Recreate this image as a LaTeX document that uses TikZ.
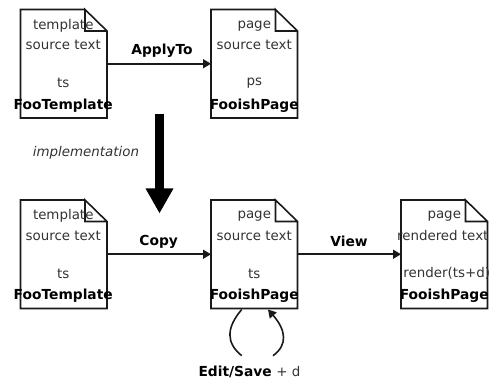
\documentclass[tikz,border=0pt]{standalone}
\usepackage{fontspec}
\setmainfont{DejaVu Sans}
\usetikzlibrary{arrows.meta}
\definecolor{ink}{HTML}{1A1A1A}
\definecolor{txt}{HTML}{333333}
\tikzset{
  x=1pt,y=-1pt,
  docbox/.style={minimum width=86.5pt,minimum height=108.5pt,inner sep=0pt,outer sep=0pt,anchor=north west},
  docline/.style={draw=ink,line width=1.6pt,line join=miter},
  lab/.style={font=\fontsize{13.4}{15}\selectfont,text=txt,inner sep=0pt,anchor=center},
  blab/.style={font=\fontsize{13.8}{15}\selectfont\bfseries,text=black,inner sep=0pt,anchor=center},
  ilab/.style={font=\fontsize{13.4}{15}\selectfont\itshape,text=txt,inner sep=0pt,anchor=center},
  conn/.style={draw=ink,line width=1.6pt,-{Triangle[length=8pt,width=9pt]}},
  plain/.style={draw=ink,line width=1.6pt},
}
\newcommand{\docshape}[3]{%
  \node[docbox] (#1) at (#2,#3) {};
  \draw[docline] ([xshift=-22pt]#1.north east) -- (#1.north west) -- (#1.south west) -- (#1.south east)
    -- ([yshift=-21.5pt]#1.north east) -- ([xshift=-22pt]#1.north east)
    -- ([xshift=-22pt,yshift=-21.5pt]#1.north east) -- ([yshift=-21.5pt]#1.north east);
}
\newcommand{\doctext}[5]{%
  \node[lab] at ([xshift=-#2pt,yshift=-16.3pt]#1.north) {#3};
  \node[lab] at ([yshift=-35.5pt,xshift=-#2pt]#1.north) {source text};
  \node[lab] at ([yshift=-73.5pt,xshift=-#2pt]#1.north) {#4};
  \node[blab] at ([yshift=-96pt,xshift=-#2pt]#1.north) {#5};
}
\begin{document}
\begin{tikzpicture}
\useasboundingbox (0,0) rectangle (492,379);
\docshape{a}{20.5}{9.5}
\docshape{b}{211}{9.5}
\docshape{c}{20.5}{200}
\docshape{d}{211}{200}
\docshape{e}{401}{200}
\doctext{a}{0.5}{template}{ts}{FooTemplate}
\doctext{b}{0}{page}{ps}{FooishPage}
\doctext{c}{0.5}{template}{ts}{FooTemplate}
\doctext{d}{0}{page}{ts}{FooishPage}
\node[lab] at ([yshift=-16.3pt]e.north) {page};
\node[lab] at ([yshift=-35.5pt,xshift=-1.5pt]e.north) {rendered text};
\node[lab] at ([yshift=-73.5pt,xshift=2.5pt]e.north) {render(ts+d)};
\node[blab] at ([yshift=-96pt]e.north) {FooishPage};

\path[conn] (a.east) -- (b.west);
\path[conn] (c.east) -- (d.west);
\path[conn] (d.east) -- (e.west);
\node[blab] at (162,51) {ApplyTo};
\node[blab] at (158.7,241.5) {Copy};
\node[blab] at (349,241.5) {View};
\node[ilab] at (86,152.5) {implementation};

\coordinate (thick1) at (159.5,114);
\coordinate (thick2) at (159.5,213.5);
\draw[line width=9pt,draw=black,-{Triangle[length=25pt,width=26pt]}] (thick1) -- (thick2);

\coordinate (l1) at (241.7,309.5);
\coordinate (l2) at (241.7,355.7);
\coordinate (r1) at (273,355.7);
\coordinate (r2) at (268,309.5);
\draw[plain] (l1) .. controls (226,328) and (226,343) .. (l2);
\draw[conn] (r1) .. controls (288,345) and (286,330) .. (r2);
\node[blab,anchor=east] (es) at (272,372) {Edit/Save};
\node[lab,anchor=west] at (es.east) {\ + d};
\end{tikzpicture}
\end{document}
